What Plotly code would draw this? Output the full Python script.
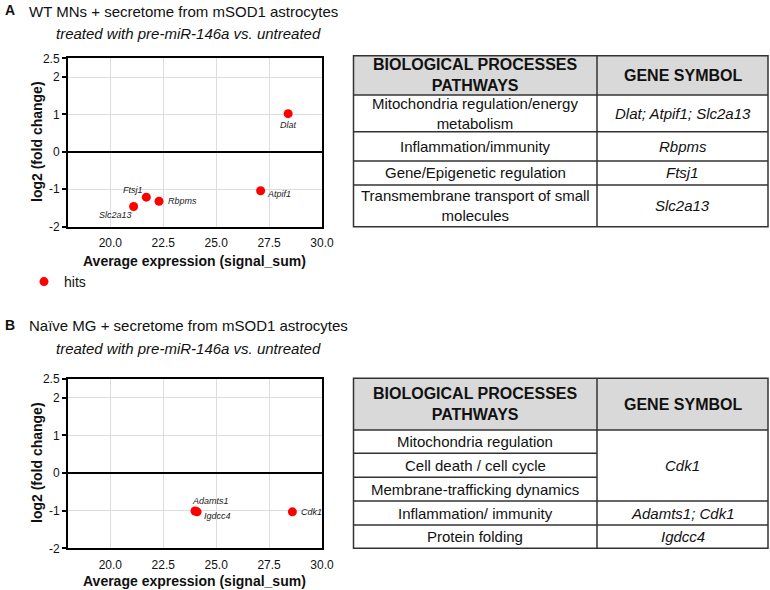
import plotly.graph_objects as go

# ---------------- data ----------------
genes_a = ["Dlat", "Atpif1", "Ftsj1", "Rbpms", "Slc2a13"]
expr_a = [28.4, 27.1, 21.7, 22.3, 21.1]
lfc_a = [1.02, -1.04, -1.21, -1.32, -1.46]

genes_b = ["Adamts1", "Igdcc4", "Cdk1"]
expr_b = [24.0, 24.1, 28.6]
lfc_b = [-1.01, -1.03, -1.03]

x_ticks = [20.0, 22.5, 25.0, 27.5, 30.0]
x_tick_labels = ["20.0", "22.5", "25.0", "27.5", "30.0"]
y_ticks = [-2, -1, 0, 1, 2, 2.5]
y_tick_labels = ["-2", "-1", "0", "1", "2", "2.5"]

table_header = ["BIOLOGICAL PROCESSES<br>PATHWAYS", "GENE SYMBOL"]
table_a_processes = ["Mitochondria regulation/energy<br>metabolism", "Inflammation/immunity",
                     "Gene/Epigenetic regulation", "Transmembrane transport of small<br>molecules"]
table_a_genes = ["Dlat; Atpif1; Slc2a13", "Rbpms", "Ftsj1", "Slc2a13"]
table_b_processes = ["Mitochondria regulation", "Cell death / cell cycle",
                     "Membrane-trafficking dynamics", "Inflammation/ immunity", "Protein folding"]
table_b_genes = ["Cdk1", "Adamts1; Cdk1", "Igdcc4"]
table_b_gene_spans = [3, 1, 1]

# ---------------- layout helpers (page pixel -> paper) ----------------
W, H = 770, 590
def px(x):
    return x / W
def py(y):
    return 1 - y / H

FONT = "Liberation Sans, Arial, sans-serif"
RED = "#ff0000"

fig = go.Figure()
fig.add_trace(go.Scatter(x=expr_a, y=lfc_a, mode="markers", name="hits",
                         marker=dict(color=RED, size=9), xaxis="x", yaxis="y",
                         showlegend=True))
fig.add_trace(go.Scatter(x=expr_b, y=lfc_b, mode="markers", name="hits",
                         marker=dict(color=RED, size=9), xaxis="x2", yaxis="y2",
                         showlegend=False))

# label offsets (styling)
lab_a = {"Dlat": ("center", 0, -11), "Atpif1": ("left", 4, -3), "Ftsj1": ("right", -1, 7),
         "Rbpms": ("left", 7, 0), "Slc2a13": ("right", 0, -9)}
lab_b = {"Adamts1": ("left", -5, 10), "Igdcc4": ("left", 5, -4), "Cdk1": ("left", 7, 0)}

annotations = []
for g, xv, yv in zip(genes_a, expr_a, lfc_a):
    a, dx, dy = lab_a[g]
    annotations.append(dict(x=xv, y=yv, xref="x", yref="y", text="<i>%s</i>" % g, showarrow=False,
                            xanchor=a, yanchor="middle", xshift=dx, yshift=dy,
                            font=dict(family=FONT, size=9, color="#222")))
for g, xv, yv in zip(genes_b, expr_b, lfc_b):
    a, dx, dy = lab_b[g]
    annotations.append(dict(x=xv, y=yv, xref="x2", yref="y2", text="<i>%s</i>" % g, showarrow=False,
                            xanchor=a, yanchor="middle", xshift=dx, yshift=dy,
                            font=dict(family=FONT, size=9, color="#222")))

def ann(x, y, text, size, bold=False, italic=False, xanchor="center", angle=0, color="#111"):
    t = text
    if italic:
        t = "<i>%s</i>" % t
    if bold:
        t = "<b>%s</b>" % t
    annotations.append(dict(x=px(x), y=py(y), xref="paper", yref="paper", text=t, showarrow=False,
                            xanchor=xanchor, yanchor="middle", textangle=angle,
                            font=dict(family=FONT, size=size, color=color)))

# titles
ann(3, 10, "A", 14, bold=True, xanchor="left")
ann(27, 11, "WT MNs + secretome from mSOD1 astrocytes", 15, xanchor="left")
ann(188, 33, "treated with pre-miR-146a vs. untreated", 15, italic=True)
ann(3, 325, "B", 14, bold=True, xanchor="left")
ann(27, 326, "Naïve MG + secretome from mSOD1 astrocytes", 15, xanchor="left")
ann(188, 348, "treated with pre-miR-146a vs. untreated", 15, italic=True)

# axis titles
ann(195, 261, "Average expression (signal_sum)", 14, bold=True)
ann(37, 142, "log2 (fold change)", 14, bold=True, angle=-90)
ann(195, 581, "Average expression (signal_sum)", 14, bold=True)
ann(37, 463, "log2 (fold change)", 14, bold=True, angle=-90)

# ---------------- tables ----------------
shapes = []
LINE = dict(color="#333333", width=1.5)
XL, XM, XR = 353.5, 597, 768

def table(top, header_bottom, row_bounds, processes, genes, spans):
    shapes.append(dict(type="rect", xref="paper", yref="paper", x0=px(XL), x1=px(XR),
                       y0=py(header_bottom), y1=py(top), fillcolor="#d9d9d9", line=dict(width=0),
                       layer="below"))
    bottom = row_bounds[-1]
    shapes.append(dict(type="rect", xref="paper", yref="paper", x0=px(XL), x1=px(XR),
                       y0=py(bottom), y1=py(top), line=LINE))
    shapes.append(dict(type="line", xref="paper", yref="paper", x0=px(XM), x1=px(XM),
                       y0=py(bottom), y1=py(top), line=LINE))
    shapes.append(dict(type="line", xref="paper", yref="paper", x0=px(XL), x1=px(XR),
                       y0=py(header_bottom), y1=py(header_bottom), line=LINE))
    ann((XL + XM) / 2, (top + header_bottom) / 2, table_header[0], 16, bold=True)
    ann((XM + XR) / 2, (top + header_bottom) / 2, table_header[1], 16, bold=True)
    bounds = [header_bottom] + row_bounds
    for i, p in enumerate(processes):
        ann((XL + XM) / 2, (bounds[i] + bounds[i + 1]) / 2, p, 15)
        if i < len(processes) - 1:
            shapes.append(dict(type="line", xref="paper", yref="paper", x0=px(XL), x1=px(XM),
                               y0=py(bounds[i + 1]), y1=py(bounds[i + 1]), line=LINE))
    r = 0
    for g, s in zip(genes, spans):
        y0, y1 = bounds[r], bounds[r + s]
        ann((XM + XR) / 2, (y0 + y1) / 2, g, 15, italic=True)
        r += s
        if r < len(processes):
            shapes.append(dict(type="line", xref="paper", yref="paper", x0=px(XM), x1=px(XR),
                               y0=py(bounds[r]), y1=py(bounds[r]), line=LINE))

table(55.7, 95, [131.7, 161, 185, 226.7], table_a_processes, table_a_genes, [1, 1, 1, 1])
table(378.3, 430, [453.3, 477.3, 501, 525, 548.3], table_b_processes, table_b_genes, table_b_gene_spans)

# ---------------- axes ----------------
xdom = [px(68), px(322)]
def xaxis(anchor):
    return dict(domain=xdom, range=[18, 30], tickvals=x_ticks, ticktext=x_tick_labels,
                showgrid=True, gridcolor="#dddddd", gridwidth=1, zeroline=False,
                showline=True, linecolor="black", linewidth=2, mirror=True, ticks="",
                ticklabelstandoff=4, anchor=anchor, automargin=False,
                tickfont=dict(family=FONT, size=12, color="#111"))
def yaxis(dom, anchor):
    return dict(domain=dom, range=[-2, 2.5], tickvals=y_ticks, ticktext=y_tick_labels,
                showgrid=True, gridcolor="#dddddd", gridwidth=1, zeroline=True,
                zerolinecolor="black", zerolinewidth=2,
                showline=True, linecolor="black", linewidth=2, mirror=True, ticks="outside",
                ticklen=4, tickwidth=1.5, tickcolor="black", anchor=anchor, automargin=False,
                tickfont=dict(family=FONT, size=12, color="#111"))

fig.update_layout(
    width=W, height=H, margin=dict(l=0, r=0, t=0, b=0),
    paper_bgcolor="white", plot_bgcolor="white",
    xaxis=xaxis("y"), yaxis=yaxis([py(226.7), py(58.3)], "x"),
    xaxis2=xaxis("y2"), yaxis2=yaxis([py(548.3), py(379)], "x2"),
    annotations=annotations, shapes=shapes,
    legend=dict(x=px(24), y=py(266), xanchor="left", yanchor="top", bgcolor="rgba(0,0,0,0)",
                font=dict(family=FONT, size=14, color="#111"), itemwidth=30),
    font=dict(family=FONT),
)

# remove the default page margin so the figure fills the window exactly
fig.write_html("out.html", config={"displayModeBar": False},
               post_script="document.body.style.margin='0';")
